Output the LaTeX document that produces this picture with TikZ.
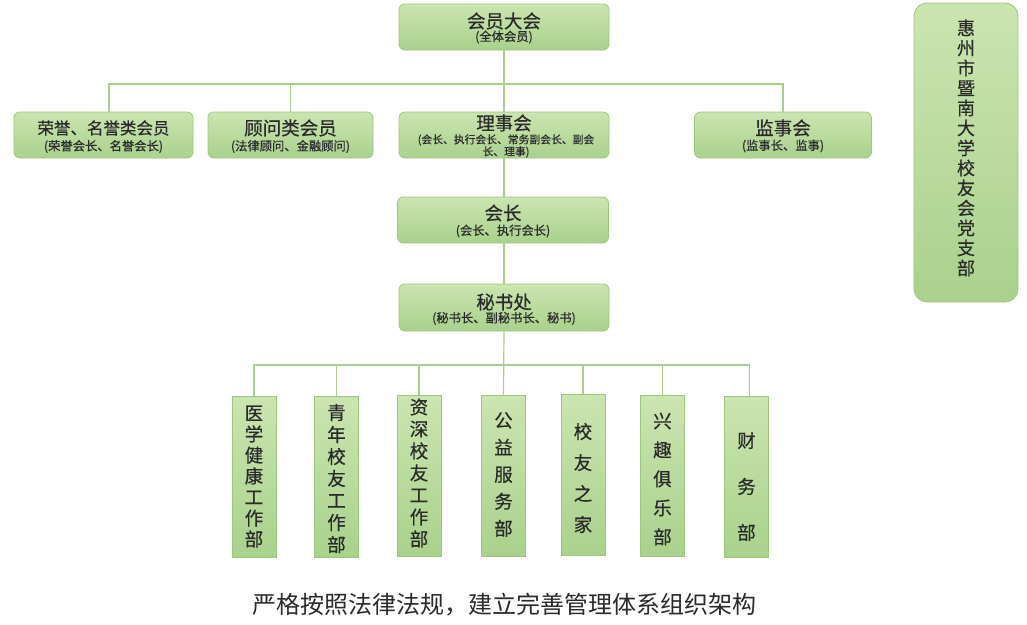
\documentclass[tikz,border=0pt]{standalone}
\usepackage{fontspec}
\setmainfont{Noto Sans CJK SC}[FakeBold=0.45]
\newfontfamily\capfont{Noto Sans CJK SC}
\definecolor{gtop}{HTML}{CBE5B0}
\definecolor{gbot}{HTML}{A9D18C}
\definecolor{gedge}{HTML}{9CC77C}
\definecolor{gline}{HTML}{A8D08D}
\definecolor{txt}{HTML}{2A2A2A}
\begin{document}
\begin{tikzpicture}[x=1pt,y=-1pt,
  box/.style={draw=gedge, line width=0.8pt, top color=gtop, bottom color=gbot,
    rounded corners=6pt, inner sep=0pt, minimum height=46pt},
  vbox/.style={draw=gedge, line width=0.9pt, top color=gtop, bottom color=gbot,
    inner sep=0pt, minimum width=44pt, minimum height=161pt},
  ttl/.style={text=txt, inner sep=0pt, font=\fontsize{18.5}{20}\selectfont},
  sbt/.style={text=txt, inner sep=0pt, align=center, font=\fontsize{12.3}{12}\selectfont},
  vtxt/.style={text=txt, inner sep=0pt, align=center},
  conn/.style={draw=gline, line width=1.2pt},
]
\useasboundingbox (0,0) rectangle (1027,624);

% top level boxes
\node[box, minimum width=210pt] (dahui) at (504,27) {};
\node[ttl] (dahuiT) at (504,21) {会员大会};
\node[sbt] (dahuiS) at (504,37) {(全体会员)};

\node[box, minimum width=179pt] (rongyu) at (103.5,135) {};
\node[ttl, font=\fontsize{16.5}{18}\selectfont] (rongyuT) at (103.5,128) {荣誉、名誉类会员};
\node[sbt] (rongyuS) at (103.5,146.5) {(荣誉会长、名誉会长)};

\node[box, minimum width=165pt] (guwen) at (290.5,135) {};
\node[ttl] (guwenT) at (290.5,128) {顾问类会员};
\node[sbt] (guwenS) at (290.5,146.5) {(法律顾问、金融顾问)};

\node[box, minimum width=210pt] (lishi) at (504,135) {};
\node[ttl] (lishiT) at (504,123) {理事会};
\node[sbt, font=\fontsize{10.8}{12}\selectfont] (lishiS) at (506,146) {(会长、执行会长、常务副会长、副会\\长、理事)};

\node[box, minimum width=177pt] (jianshi) at (783,135) {};
\node[ttl] (jianshiT) at (783,128) {监事会};
\node[sbt] (jianshiS) at (783,146) {(监事长、监事)};

\node[box, minimum width=211pt] (huizhang) at (503,220) {};
\node[ttl] (huizhangT) at (503,213) {会长};
\node[sbt] (huizhangS) at (503,231) {(会长、执行会长)};

\node[box, minimum width=210pt, minimum height=47pt] (mishu) at (504,307.5) {};
\node[ttl] (mishuT) at (504,302) {秘书处};
\node[sbt] (mishuS) at (504,318.5) {(秘书长、副秘书长、秘书)};

% party branch
\node[box, rounded corners=13pt, minimum width=104pt, minimum height=299pt] (dang) at (966,152.5) {};
\node[vtxt, font=\fontsize{18}{20}\selectfont] (dangtxt) at (966,148)
  {惠\\州\\市\\暨\\南\\大\\学\\校\\友\\会\\党\\支\\部};

% departments
\node[vbox] (d1) at (254,476.5) {};
\node[vbox] (d2) at (336.5,476.5) {};
\node[vbox] (d3) at (419,476) {};
\node[vbox] (d4) at (503.5,475.5) {};
\node[vbox] (d5) at (583,475) {};
\node[vbox] (d6) at (662.5,476) {};
\node[vbox] (d7) at (746.5,476.5) {};
\node[vtxt, font=\fontsize{18.5}{21}\selectfont] (t1) at (d1.center) {医\\学\\健\\康\\工\\作\\部};
\node[vtxt, font=\fontsize{18.5}{22}\selectfont] (t2) at ([yshift=-2pt]d2.center) {青\\年\\校\\友\\工\\作\\部};
\node[vtxt, font=\fontsize{18.5}{22}\selectfont] (t3) at ([yshift=3pt]d3.center) {资\\深\\校\\友\\工\\作\\部};
\node[vtxt, font=\fontsize{18.5}{27}\selectfont] (t4) at ([yshift=1pt]d4.center) {公\\益\\服\\务\\部};
\node[vtxt, font=\fontsize{18.5}{31}\selectfont] (t5) at ([yshift=-3pt]d5.center) {校\\友\\之\\家};
\node[vtxt, font=\fontsize{18.5}{29}\selectfont] (t6) at ([yshift=-3pt]d6.center) {兴\\趣\\俱\\乐\\部};
\node[vtxt, font=\fontsize{18.5}{46}\selectfont] (t7) at ([yshift=-10pt]d7.center) {财\\务\\部};

% connectors top
\coordinate (bus1) at (504,84);
\draw[conn] (dahui.south) -- (lishi.north);
\draw[conn] ([xshift=5.5pt]rongyu.north) |- (bus1) -| (jianshi.north);
\draw[conn] (guwen.north) -- (guwen.north |- bus1);
\draw[conn] (lishi.south) -- (lishi.south |- huizhang.north);
\draw[conn] (huizhang.south -| mishu.north) -- (mishu.north);

% connectors bottom
\coordinate (bus2) at (504,365);
\draw[conn] (mishu.south) -- (d4.north);
\draw[conn] (d1.north) |- (bus2) -| ([xshift=3pt]d7.north);
\foreach \d in {d2,d3,d5,d6}{
  \draw[conn] (\d.north) -- (\d.north |- bus2);
}

% caption
\node[text=txt, inner sep=0pt, font=\capfont\fontsize{24}{26}\selectfont] (cap) at (504,605) {严格按照法律法规，建立完善管理体系组织架构};
\end{tikzpicture}
\end{document}
